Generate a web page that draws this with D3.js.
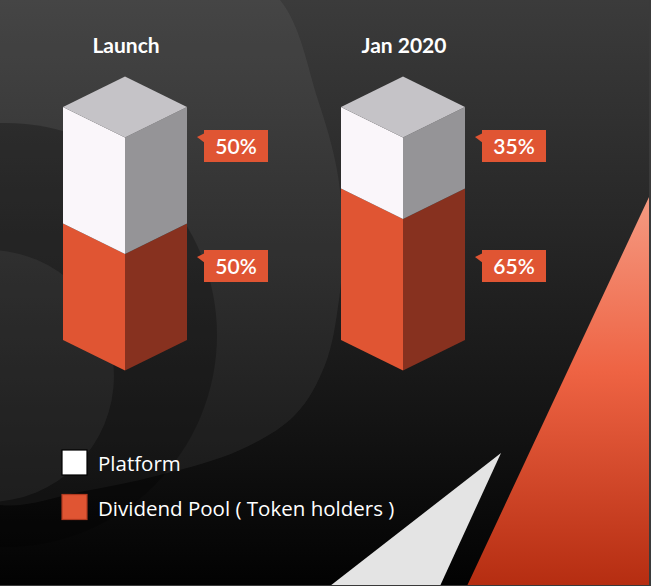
<!DOCTYPE html>
<html>
<head>
<meta charset="utf-8">
<script src="https://cdn.jsdelivr.net/npm/d3@7"></script>
<style>
  html, body { margin: 0; padding: 0; background: #000; }
  #chart { width: 651px; height: 586px; }
</style>
</head>
<body>
<div id="chart"></div>
<script>
  const categories = ["Launch", "Jan 2020"];
  const platformShare = [50, 35];
  const dividendShare = [50, 65];
  const seriesKeys = ["dividend", "platform"];
  const seriesNames = { platform: "Platform", dividend: "Dividend Pool ( Token holders )" };

  const width = 651;
  const height = 586;

  const rows = categories.map((c, i) => ({
    category: c,
    platform: platformShare[i],
    dividend: dividendShare[i]
  }));

  const svg = d3.select("#chart")
    .append("svg")
    .attr("width", width)
    .attr("height", height);

  const defs = svg.append("defs");

  const bgGrad = defs.append("linearGradient")
    .attr("id", "bg").attr("x1", 0).attr("y1", 0).attr("x2", 0).attr("y2", 1);
  bgGrad.append("stop").attr("offset", "0%").attr("stop-color", "#3b3b3b");
  bgGrad.append("stop").attr("offset", "40%").attr("stop-color", "#262626");
  bgGrad.append("stop").attr("offset", "75%").attr("stop-color", "#121212");
  bgGrad.append("stop").attr("offset", "100%").attr("stop-color", "#020202");

  const redGrad = defs.append("linearGradient")
    .attr("id", "red").attr("x1", 0).attr("y1", 0).attr("x2", 0).attr("y2", 1);
  redGrad.append("stop").attr("offset", "0%").attr("stop-color", "#f59a82");
  redGrad.append("stop").attr("offset", "45%").attr("stop-color", "#ee6343");
  redGrad.append("stop").attr("offset", "100%").attr("stop-color", "#b52d11");

  // background
  svg.append("rect")
    .attr("width", width).attr("height", height)
    .attr("fill", "url(#bg)");

  // decorative swirl on the left
  const swirl = d3.line().curve(d3.curveCatmullRomClosed.alpha(0.5));
  svg.append("path")
    .attr("d", swirl([[-60, -120], [200, -50], [280, 0], [318, 100], [337, 170], [343, 240],
      [339, 300], [325, 365], [295, 415], [240, 450], [160, 475], [80, 492], [0, 505], [-80, 470], [-90, 200]]))
    .attr("fill", "#ffffff").attr("fill-opacity", 0.055);

  svg.append("circle")
    .attr("cx", 5).attr("cy", 335).attr("r", 212)
    .attr("fill", "#000").attr("fill-opacity", 0.25);

  svg.append("circle")
    .attr("cx", -12).attr("cy", 376).attr("r", 126)
    .attr("fill", "#ffffff").attr("fill-opacity", 0.05);

  // corner triangles
  svg.append("path")
    .attr("d", "M501,453 L440,586 L330,586 Z")
    .attr("fill", "#e4e4e4");
  svg.append("path")
    .attr("d", "M649,197 L649,586 L467,586 Z")
    .attr("fill", "url(#red)");
  svg.append("rect").attr("x", 649).attr("y", 0).attr("width", 2).attr("height", height).attr("fill", "#3a3a3a");
  svg.append("rect").attr("x", 0).attr("y", 585).attr("width", width).attr("height", 1).attr("fill", "#3a3a3a");

  // scales
  const x = d3.scalePoint()
    .domain(categories)
    .range([125, 403]);

  const y = d3.scaleLinear()
    .domain([0, 100])
    .range([340, 107]);

  const halfW = 62;
  const depth = 30.5;

  const colors = {
    platform: { front: "#faf6fa", side: "#959497", top: "#c5c3c7", box: "#ffffff" },
    dividend: { front: "#e05533", side: "#87311f", top: "#e8714f", box: "#e05533" }
  };

  const stacked = d3.stack().keys(seriesKeys)(rows);

  const poly = pts => "M" + pts.map(p => p.join(",")).join("L") + "Z";

  const bars = svg.append("g");

  stacked.forEach(layer => {
    const key = layer.key;
    layer.forEach(d => {
      const cx = x(d.data.category);
      const yb = y(d[0]);
      const yt = y(d[1]);
      // front face
      bars.append("path")
        .attr("d", poly([[cx - halfW, yt], [cx, yt + depth], [cx, yb + depth], [cx - halfW, yb]]))
        .attr("fill", colors[key].front);
      // right face
      bars.append("path")
        .attr("d", poly([[cx, yt + depth], [cx + halfW, yt], [cx + halfW, yb], [cx, yb + depth]]))
        .attr("fill", colors[key].side);
    });
  });

  // top cap on the highest segment
  const topLayer = stacked[stacked.length - 1];
  topLayer.forEach(d => {
    const cx = x(d.data.category);
    const yt = y(d[1]);
    bars.append("path")
      .attr("d", poly([[cx, yt - depth], [cx + halfW, yt], [cx, yt + depth], [cx - halfW, yt]]))
      .attr("fill", colors[topLayer.key].top);
  });

  // category titles
  svg.append("g")
    .selectAll("text")
    .data(categories)
    .join("text")
    .attr("x", d => x(d) + 1)
    .attr("y", 52.5)
    .attr("text-anchor", "middle")
    .style("font-family", "Lato, sans-serif")
    .style("font-weight", "bold")
    .style("font-size", "21px")
    .style("fill", "#ffffff")
    .text(d => d);

  // value callouts
  const labelRowY = { platform: 130, dividend: 250 };
  const boxW = 64, boxH = 32;
  const labels = svg.append("g");
  stacked.forEach(layer => {
    layer.forEach(d => {
      const bx = x(d.data.category) + halfW + 17;
      const by = labelRowY[layer.key];
      const g = labels.append("g");
      g.append("path")
        .attr("d", poly([[bx - 7, by + 7], [bx + 1, by + 3], [bx + 1, by + 13]]))
        .attr("fill", "#e05533");
      g.append("rect")
        .attr("x", bx).attr("y", by)
        .attr("width", boxW).attr("height", boxH)
        .attr("fill", "#e05533");
      g.append("text")
        .attr("x", bx + boxW / 2)
        .attr("y", by + 23.5)
        .attr("text-anchor", "middle")
        .style("font-family", "Lato, sans-serif")
        .style("font-weight", 600)
        .style("font-size", "21px")
        .style("fill", "#ffffff")
        .text((d[1] - d[0]) + "%");
    });
  });

  // legend
  const legendKeys = ["platform", "dividend"];
  const legend = svg.append("g")
    .selectAll("g")
    .data(legendKeys)
    .join("g")
    .attr("transform", (d, i) => `translate(62,${450 + i * 44.5})`);

  legend.append("rect")
    .attr("width", 25).attr("height", 25)
    .attr("fill", d => colors[d].box)
    .attr("stroke", d => d === "platform" ? "#000" : "#b03a20")
    .attr("stroke-width", 1.2);

  legend.append("text")
    .attr("x", 36)
    .attr("y", 21)
    .style("font-family", "'Open Sans', sans-serif")
    .style("font-size", "20.5px")
    .style("fill", "#ffffff")
    .text(d => seriesNames[d]);
</script>
</body>
</html>
